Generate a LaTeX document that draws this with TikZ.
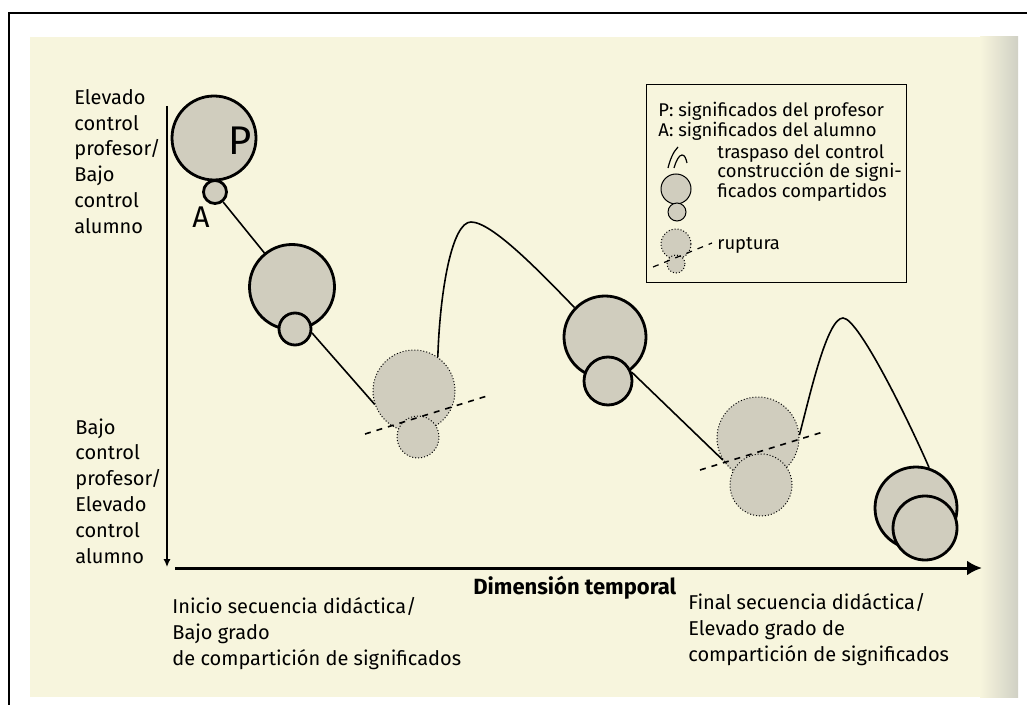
\documentclass[tikz,border=0pt]{standalone}
\usepackage{fontspec}
\setmainfont{Fira Sans}
\usepackage{xcolor}
\usetikzlibrary{arrows.meta,positioning,calc}
\definecolor{paper}{RGB}{247,245,221}
\definecolor{edge}{RGB}{208,208,196}
\definecolor{bub}{RGB}{208,205,190}

\begin{document}
\begin{tikzpicture}[x=0.5pt,y=-0.5pt,font=\fontsize{10}{12.9}\selectfont,>=Latex,
  pb/.style={draw,circle,fill=bub,line width=1.4pt,inner sep=0pt,minimum size=#1pt},
  pd/.style={draw,circle,fill=bub,densely dotted,line width=0.5pt,inner sep=0pt,minimum size=#1pt},
  pk/.style={draw,circle,fill=bub,line width=0.5pt,inner sep=0pt,minimum size=#1pt},
  pkd/.style={pk=#1,densely dotted},
  lbl/.style={align=left,anchor=north west,inner sep=0pt},
  key/.style={anchor=base west,inner sep=0pt,font=\fontsize{9.2}{10}\selectfont},
  link/.style={line width=0.8pt},
  cut/.style={dashed,line width=0.8pt}]
  \useasboundingbox (0,0) rectangle (1027,705);
  \fill[white] (0,0) rectangle (1027,705);
  \fill[paper] (30,37) rectangle (1018,697);
  \shade[left color=paper,right color=edge] (980,37) rectangle (1018,697);
  \draw[line width=1.2pt] (9,705) -- (9,13) -- (1027,13);

  \coordinate (ytop) at (167,106);
  \coordinate (ybot) at (167,567);
  \coordinate (xl) at (175,568);
  \coordinate (xr) at (982,568);
  \draw[-{Latex[length=4pt,width=3.6pt]},line width=0.7pt] (ytop) -- (ybot);
  \draw[-{Latex[length=7.5pt,width=7.5pt]},line width=1.5pt] (xl) -- (xr);

  \node[lbl] (hi) at (74,89) {Elevado\\control\\profesor/\\Bajo\\control\\alumno};
  \node[lbl] (lo) at (75,418) {Bajo\\control\\profesor/\\Elevado\\control\\alumno};
  \node[lbl] (ini) at (172,597) {Inicio secuencia didáctica/\\Bajo grado\\de compartición de significados};
  \node[lbl] (fin) at (688,593) {Final secuencia didáctica/\\Elevado grado de\\compartición de significados};
  \node[lbl,font=\fontsize{11}{12.9}\selectfont\bfseries] (tmp) at (473,576) {Dimensión temporal};

  \node[pb=42] (p0) at (214,138) {};
  \node[pb=11.5] (a0) at (215,192) {};
  \node[font=\fontsize{20}{20}\selectfont] (pl) at (240,141) {P};
  \node[font=\fontsize{15}{15}\selectfont] (al) at (201,217) {A};

  \node[pb=42.5] (p1) at (292,287) {};
  \node[pb=16] (a1) at (295,329) {};
  \node[pd=41] (p2) at (414,391) {};
  \node[pd=21] (a2) at (418,437) {};
  \node[pb=41] (p3) at (605,337) {};
  \node[pb=24] (a3) at (608,381) {};
  \node[pd=41] (p4) at (758,438) {};
  \node[pd=31] (a4) at (761,485) {};
  \node[pb=41] (p5) at (916,508) {};
  \node[pb=32] (a5) at (925,528) {};

  \coordinate (top1) at (471,222);
  \coordinate (top2) at (843,318);
  \draw[link] (a0) -- (p1);
  \draw[link] (a1.-13) -- (p2.199);
  \draw[link] (p2.55) .. controls (440,290) and (452,222) .. (top1)
    .. controls (492,222) and (540,272) .. (p3.136);
  \draw[link] (a3.20) -- (p4.212);
  \draw[link] (p4.4) .. controls (810,395) and (827,318) .. (top2)
    .. controls (859,318) and (912,428) .. (p5.72);
  \coordinate (c1a) at (365,434);
  \coordinate (c1b) at (487,396);
  \coordinate (c2a) at (700,470);
  \coordinate (c2b) at (823,432);
  \draw[cut] (c1a) -- (c1b);
  \draw[cut] (c2a) -- (c2b);

  \node[draw,line width=0.6pt,inner sep=0pt,minimum width=130pt,minimum height=99pt,anchor=north west] (leg) at (646,84) {};
  \node[key] (kp) at (658,117) {P: significados del profesor};
  \node[key] (ka) at (658,137) {A: significados del alumno};
  \node[key] (kt) at (717,159) {traspaso del control};
  \node[key] (kc) at (717,178) {construcción de signi-};
  \node[key] (kc2) at (717,198) {ficados compartidos};
  \node[key] (kr) at (717,250) {ruptura};
  \draw[line width=0.6pt] (668,168) .. controls (670,160) and (673,152) .. (678,147);
  \draw[line width=0.6pt] (674,168) .. controls (676,161) and (679,155) .. (682,155)
    .. controls (685,155) and (686,159) .. (687,163);
  \node[pk=15] (kb) at (676,189) {};
  \node[pk=9] (ks) at (677,212) {};
  \node[pkd=15] (kdb) at (676,244) {};
  \node[pkd=9] (kds) at (676,264) {};
  \coordinate (kca) at (653,267);
  \coordinate (kcb) at (712,243);
  \draw[dashed,line width=0.6pt] (kca) -- (kcb);
\end{tikzpicture}
\end{document}
